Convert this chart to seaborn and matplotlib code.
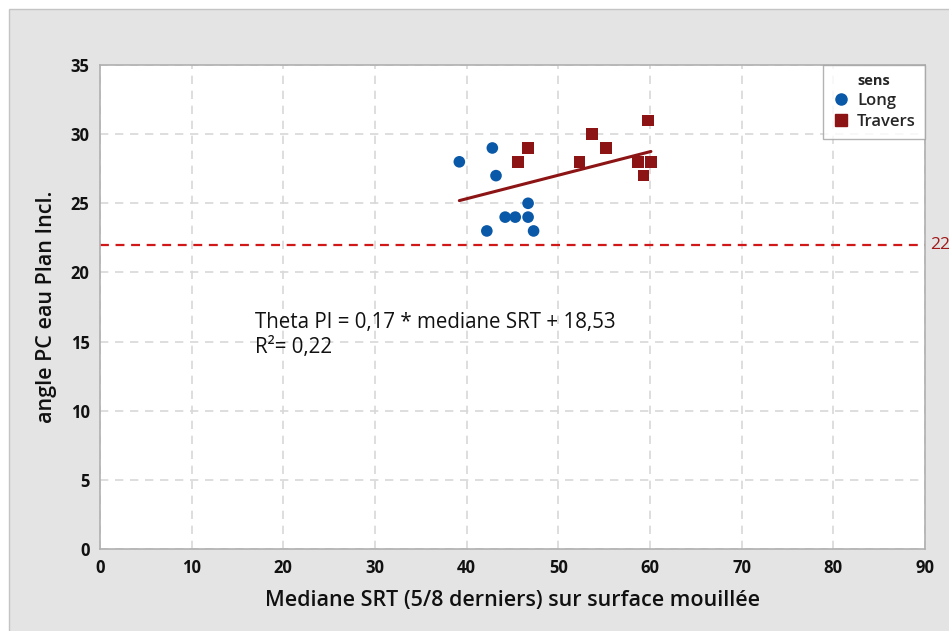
import numpy as np
import pandas as pd
import matplotlib
matplotlib.use("Agg")
import matplotlib.pyplot as plt
from matplotlib.patches import Rectangle
from matplotlib.lines import Line2D
import seaborn as sns

# ---- data ----
long_x = [39.2, 42.8, 43.2, 46.7, 44.2, 45.3, 46.7, 42.2, 47.3]
long_y = [28, 29, 27, 25, 24, 24, 24, 23, 23]
trav_x = [46.7, 45.6, 52.3, 53.7, 55.2, 59.8, 58.7, 60.1, 59.3]
trav_y = [29, 28, 28, 30, 29, 31, 28, 28, 27]
groups = ["Long", "Travers"]
slope = 0.17
intercept = 18.53
ref_value = 22
x_ticks = [0, 10, 20, 30, 40, 50, 60, 70, 80, 90]
y_ticks = [0, 5, 10, 15, 20, 25, 30, 35]

df = pd.DataFrame({
    "x": long_x + trav_x,
    "y": long_y + trav_y,
    "sens": [groups[0]] * len(long_x) + [groups[1]] * len(trav_x),
})

sns.set_style("white")
plt.rcParams["font.family"] = ["Open Sans", "DejaVu Sans"]
plt.rcParams["font.weight"] = "bold"

BLUE = "#0a58a8"
RED = "#8c1414"

fig = plt.figure(figsize=(9.49, 6.31), dpi=100)
fig.patch.set_facecolor("white")
bg = Rectangle((9 / 949, -0.01), 1.0, 1 - 9 / 631 + 0.01,
               transform=fig.transFigure, facecolor="#e4e4e4",
               edgecolor="#c4c4c4", linewidth=1.0, zorder=-10)
fig.patches.append(bg)
ax = fig.add_axes([100 / 949, 1 - 549 / 631, 825 / 949, 484 / 631])
ax.set_zorder(5)
ax.set_facecolor("white")

sns.scatterplot(data=df, x="x", y="y", hue="sens", style="sens",
                markers={"Long": "o", "Travers": "s"},
                palette={"Long": BLUE, "Travers": RED},
                s=70, linewidth=0, ax=ax, legend=False, zorder=3)

# regression line
xr = np.array([min(df["x"]), max(df["x"])])
ax.plot(xr, slope * xr + intercept, color=RED, linewidth=2.2, zorder=2)

# reference line
ax.axhline(ref_value, color="#d01818", linestyle=(0, (4, 3)), linewidth=1.6, zorder=2)
ax.text(1.006, ref_value, str(ref_value), transform=ax.get_yaxis_transform(),
        color="#a01818", fontsize=12.5, fontweight="normal",
        va="center", ha="left", clip_on=False)

ax.text(16.9, 17.15, "Theta PI = 0,17 * mediane SRT + 18,53\nR²= 0,22",
        fontsize=14.8, fontweight="normal", va="top", ha="left",
        linespacing=1.25, color="#111111")

ax.set_xlim(0, 90)
ax.set_ylim(0, 35)
ax.set_xticks(x_ticks)
ax.set_yticks(y_ticks)
ax.grid(True, color="#d8d8d8", linestyle=(0, (5, 4)), linewidth=1.2)
ax.set_axisbelow(True)
for sp in ax.spines.values():
    sp.set_color("#b0b0b0")
    sp.set_linewidth(1.2)
ax.tick_params(axis="both", which="both", length=4, color="#b0b0b0",
               labelsize=12, labelcolor="#111111", width=1)

ax.set_xlabel("Mediane SRT (5/8 derniers) sur surface mouillée", fontsize=15.5,
              fontweight="semibold", labelpad=9, color="#111111")
ax.set_ylabel("angle PC eau Plan Incl.", fontsize=15.5, fontweight="semibold",
              labelpad=10, color="#111111")

handles = [Line2D([], [], marker="o", linestyle="", color=BLUE, markersize=8),
           Line2D([], [], marker="s", linestyle="", color=RED, markersize=9)]
leg = ax.legend(handles, groups, title="sens", loc="upper right",
                bbox_to_anchor=(1.0, 1.0), frameon=True, fancybox=False,
                borderaxespad=0, fontsize=12, title_fontsize=10.5,
                handletextpad=0.4, borderpad=0.55, labelspacing=0.3,
                handlelength=1.1)
leg.get_frame().set_edgecolor("#a0a0a0")
leg.get_frame().set_linewidth(1.0)
for t in leg.get_texts():
    t.set_fontweight("semibold")

fig.savefig("out.png", dpi=100, facecolor=fig.get_facecolor())
